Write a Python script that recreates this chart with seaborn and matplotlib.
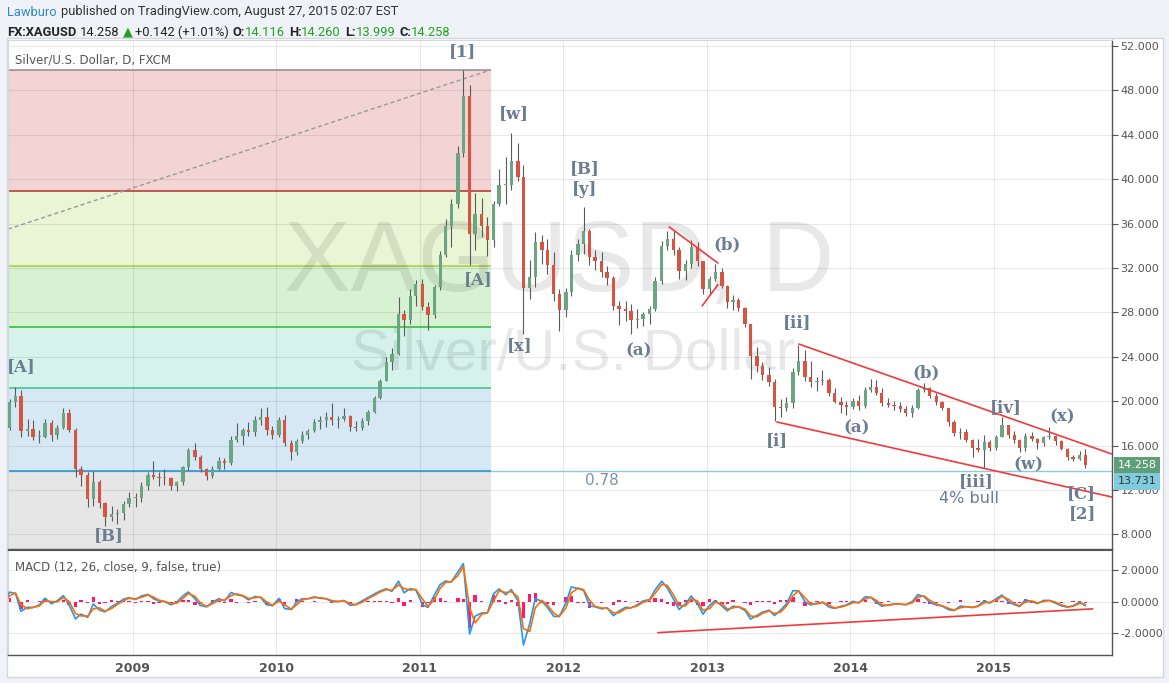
import numpy as np
import pandas as pd
import matplotlib
matplotlib.use("Agg")
import matplotlib.pyplot as plt
import matplotlib.dates as mdates
from matplotlib.patches import Rectangle
import seaborn as sns

W, H = 1169, 683

# ---------------- data (half-month candles) ----------------
period_start = pd.date_range("2008-02-01", "2015-08-15", freq="SMS")
first_open = 17.1

highs_2008 = [18.2, 20.2, 21.3, 21.0, 18.4, 18.3, 17.4, 18.4, 18.3, 17.9, 19.4, 19.3, 17.6, 14.2, 13.6, 13.7, 12.9, 10.9, 10.6, 10.3, 11.0, 11.8]
lows_2008 = [16.9, 17.4, 19.5, 16.8, 16.9, 16.5, 16.2, 16.7, 16.4, 16.6, 17.5, 17.2, 13.2, 12.4, 10.5, 10.6, 10.4, 8.8, 9.2, 8.9, 9.3, 10.5]
closes_2008 = [17.6, 19.9, 20.5, 17.3, 17.5, 16.8, 16.8, 18.0, 17.0, 17.6, 18.9, 17.4, 13.9, 13.4, 11.2, 12.7, 10.8, 9.6, 9.8, 9.9, 10.7, 11.3]

highs_2009 = [11.7, 12.7, 13.6, 14.6, 13.6, 13.9, 13.2, 12.8, 14.2, 15.8, 16.2, 15.2, 14.0, 14.2, 15.0, 14.9, 16.9, 18.0, 17.6, 18.1, 18.7, 19.4, 19.5, 17.8]
lows_2009 = [10.5, 10.9, 12.0, 13.0, 12.4, 12.5, 12.0, 11.9, 12.5, 13.8, 14.7, 13.6, 12.9, 13.1, 13.8, 13.9, 14.3, 16.3, 16.1, 16.9, 16.9, 17.9, 17.0, 16.6]
closes_2009 = [11.3, 12.4, 13.4, 13.2, 13.1, 13.1, 12.4, 12.7, 14.1, 15.6, 15.0, 13.9, 13.3, 13.9, 14.6, 14.4, 16.5, 16.9, 17.4, 17.2, 18.3, 18.6, 17.4, 17.0]

highs_2010 = [18.6, 18.8, 16.5, 16.6, 17.3, 17.5, 18.4, 18.7, 19.0, 19.8, 18.7, 19.4, 18.8, 18.2, 18.5, 19.2, 20.5, 22.0, 24.0, 24.8, 29.4, 28.2, 30.1, 30.9]
lows_2010 = [16.8, 16.0, 14.7, 15.2, 16.2, 16.6, 17.2, 17.5, 17.7, 17.9, 17.6, 18.2, 17.3, 17.3, 17.4, 17.9, 18.9, 20.2, 21.8, 22.8, 24.2, 25.9, 27.0, 28.6]
closes_2010 = [18.3, 16.2, 15.4, 16.4, 17.0, 17.3, 18.1, 18.3, 18.6, 18.3, 18.4, 18.7, 17.7, 17.6, 18.2, 19.0, 20.3, 21.8, 23.5, 24.3, 27.9, 27.3, 29.5, 30.6]

highs_2011 = [31.0, 28.9, 30.5, 33.5, 36.4, 38.2, 43.0, 49.8, 48.5, 38.8, 38.3, 36.6, 38.0, 40.9, 42.0, 44.2, 43.3, 41.3, 32.7, 35.2, 35.0, 34.6, 33.4, 30.1]
lows_2011 = [28.2, 26.4, 27.5, 30.0, 33.0, 33.9, 37.4, 42.0, 32.3, 33.6, 34.8, 33.1, 33.9, 37.6, 37.8, 39.0, 39.8, 26.1, 29.2, 30.3, 32.4, 31.5, 29.0, 26.3]
closes_2011 = [28.5, 27.8, 30.3, 33.2, 35.8, 37.8, 42.4, 47.5, 35.1, 36.9, 35.8, 34.5, 37.8, 39.5, 39.5, 41.6, 40.2, 30.2, 31.2, 34.3, 33.6, 32.3, 29.7, 28.2]

highs_2012 = [30.2, 33.6, 34.6, 37.5, 35.5, 33.6, 33.4, 32.2, 31.3, 29.0, 29.0, 28.8, 28.3, 28.0, 28.6, 31.2, 34.4, 35.3, 35.4, 33.9, 32.7, 34.5, 34.3, 32.6]
lows_2012 = [27.6, 29.5, 32.6, 33.3, 32.3, 31.8, 31.2, 30.5, 28.2, 26.9, 27.2, 26.1, 26.6, 26.8, 27.0, 28.1, 30.6, 33.6, 33.2, 31.0, 30.9, 32.0, 32.2, 29.7]
closes_2012 = [29.8, 33.2, 34.2, 35.3, 33.0, 32.6, 31.6, 31.1, 28.6, 28.3, 28.1, 27.3, 27.4, 27.9, 28.3, 30.8, 34.0, 34.6, 33.6, 31.7, 32.4, 33.9, 32.6, 30.1]

highs_2013 = [31.3, 32.4, 32.0, 30.5, 29.6, 29.3, 28.5, 27.0, 24.9, 23.5, 23.1, 22.0, 20.2, 20.4, 23.0, 25.1, 24.6, 23.6, 22.2, 22.8, 22.1, 21.2, 20.4, 20.0]
lows_2013 = [29.6, 30.8, 30.2, 28.4, 28.2, 28.1, 26.7, 22.0, 22.6, 21.9, 21.4, 18.2, 18.6, 19.1, 19.4, 22.4, 21.8, 21.3, 20.9, 21.5, 20.5, 19.8, 18.9, 18.8]
closes_2013 = [31.0, 31.6, 30.4, 28.9, 29.1, 28.4, 27.0, 24.1, 23.2, 22.4, 21.7, 19.5, 19.4, 19.8, 22.6, 23.6, 22.2, 21.7, 21.8, 21.9, 20.7, 19.9, 19.7, 19.5]

highs_2014 = [20.3, 20.6, 21.3, 22.0, 21.9, 21.2, 20.3, 20.0, 19.9, 19.6, 19.7, 21.2, 21.6, 21.3, 20.7, 20.0, 19.4, 18.3, 17.6, 17.5, 16.6, 16.6, 17.0, 16.5]
lows_2014 = [19.3, 19.2, 19.4, 20.8, 20.6, 19.6, 19.5, 19.2, 19.0, 18.7, 18.6, 19.3, 20.8, 20.3, 19.7, 19.2, 17.8, 16.9, 16.6, 16.3, 15.0, 15.4, 14.0, 15.5]
closes_2014 = [20.0, 19.6, 21.0, 21.3, 20.7, 19.8, 19.7, 19.6, 19.3, 18.9, 19.4, 21.0, 21.2, 20.5, 19.9, 19.4, 18.1, 17.1, 17.2, 16.5, 15.8, 15.6, 16.3, 15.8]

highs_2015 = [17.0, 18.6, 17.9, 17.3, 16.6, 17.1, 17.2, 16.7, 16.9, 17.7, 17.0, 16.5, 15.8, 15.2, 15.5, 15.7]
lows_2015 = [15.6, 16.8, 16.7, 16.2, 15.4, 15.5, 16.4, 15.7, 16.0, 16.6, 16.1, 15.6, 14.7, 14.6, 14.7, 14.0]
closes_2015 = [16.8, 17.9, 17.0, 16.5, 15.8, 16.9, 16.6, 16.2, 16.8, 16.9, 16.4, 15.7, 15.0, 14.8, 15.2, 14.258]

# Fibonacci retracement
fib_ratios = [0.0, 0.236, 0.382, 0.5, 0.618, 0.78, 1.0]
fib_high = 49.85
fib_low = 3.54
fib_start = "2008-02-01"
fib_end = "2011-07-01"
fib_line_colors = ["#8c8c8c", "#b3302c", "#a3cf3c", "#2fb82f", "#3dbf8d", "#2a8fd0"]
fib_fill_colors = ["#f3d4d4", "#eaf5d5", "#d7f1d3", "#d5f3ea", "#d5e8f4", "#e6e6e6"]
level_078_line = 13.731
fib_trend_dates = ["2008-02-18", "2011-07-01"]
fib_trend_prices = [35.5, 49.85]

# red trend lines (price panel)
trend_dates = [("2013-08-23", "2015-10-29"), ("2013-06-28", "2015-10-29"),
               ("2012-09-27", "2013-01-29"), ("2012-12-20", "2013-01-29")]
trend_prices = [(25.15, 15.24), (18.13, 11.37), (35.7, 32.45), (28.6, 30.5)]
macd_trend_dates = ["2012-08-29", "2015-09-10"]
macd_trend_values = [-1.95, -0.44]

# Elliott-wave labels
wave_labels = ["[1]", "[w]", "[B]", "[y]", "[A]", "[x]", "(a)", "(b)", "[ii]", "[i]", "(a)", "(b)",
               "[iv]", "(x)", "(w)", "[iii]", "[C]", "[2]", "[A]", "[B]"]
wave_dates = ["2011-04-21", "2011-08-29", "2012-02-25", "2012-02-25", "2011-05-29", "2011-09-13",
              "2012-07-12", "2013-02-21", "2013-08-18", "2013-06-28", "2014-01-18", "2014-07-13",
              "2015-02-01", "2015-06-24", "2015-03-29", "2014-11-17", "2015-08-11", "2015-08-16",
              "2008-03-22", "2008-11-01"]
wave_prices = [51.46, 45.96, 40.92, 39.03, 30.92, 25.06, 24.52, 34.07, 27.05, 16.5, 17.59, 22.54,
               19.39, 18.58, 14.25, 12.81, 11.73, 9.84, 23.17, 7.86]

price_ticks = [8, 12, 16, 20, 24, 28, 32, 36, 40, 44, 48, 52]
macd_ticks = [-2, 0, 2]
last_price = 14.258

# ---------------- assemble ----------------
highs = np.array(highs_2008 + highs_2009 + highs_2010 + highs_2011 + highs_2012 + highs_2013 + highs_2014 + highs_2015)
lows = np.array(lows_2008 + lows_2009 + lows_2010 + lows_2011 + lows_2012 + lows_2013 + lows_2014 + lows_2015)
closes = np.array(closes_2008 + closes_2009 + closes_2010 + closes_2011 + closes_2012 + closes_2013 + closes_2014 + closes_2015)
assert len(highs) == len(lows) == len(closes) == len(period_start)
opens = np.concatenate([[first_open], closes[:-1]])
highs = np.maximum(highs, np.maximum(opens, closes))
lows = np.minimum(lows, np.minimum(opens, closes))
centers = period_start + pd.Timedelta(days=7)
xc = mdates.date2num(centers)

# MACD(12, 26, 9) from the closes; each candle spans ~10.8 daily bars
bars_per_period = 10.8
def eff_alpha(n):
    return 1 - (1 - 2.0 / (n + 1)) ** bars_per_period
cs = pd.Series(closes)
macd = cs.ewm(alpha=eff_alpha(12), adjust=False).mean() - cs.ewm(alpha=eff_alpha(26), adjust=False).mean()
lag = 4.0 / bars_per_period  # SMA(9) lag in periods
signal = macd - lag * (macd - macd.shift(1).fillna(macd.iloc[0]))
hist = macd - signal

# ---------------- figure ----------------
sns.set_style("white")
plt.rcParams['font.family'] = ['DejaVu Sans']

fig = plt.figure(figsize=(W / 100, H / 100), dpi=100, facecolor="#eff2f6")
bg = Rectangle((7 / W, 1 - 677 / H), (1163 - 7) / W, (677 - 38) / H,
               transform=fig.transFigure, facecolor="white",
               edgecolor="#d3d8de", lw=1, zorder=-10)
fig.add_artist(bg)

ax = fig.add_axes([8 / W, 1 - 549 / H, 1104 / W, 509 / H])
ax2 = fig.add_axes([8 / W, 1 - 655 / H, 1104 / W, 105 / H], sharex=ax)
ax.set_zorder(1)
ax2.set_zorder(1)

xlim = (mdates.datestr2num("2008-02-18"), mdates.datestr2num("2015-10-29"))

for a in (ax, ax2):
    a.set_facecolor("white")
    a.set_axisbelow(True)
    a.grid(True, color="#000000", alpha=0.085, lw=0.8)
    a.xaxis.set_major_locator(mdates.YearLocator())
    a.xaxis.set_major_formatter(mdates.DateFormatter("%Y"))
    a.yaxis.tick_right()
    for s in ("top", "left"):
        a.spines[s].set_color("#d3d8de")
        a.spines[s].set_linewidth(0.8)
    for s in ("right", "bottom"):
        a.spines[s].set_color("#555555")
        a.spines[s].set_linewidth(1.0)
ax2.spines["top"].set_color("#555555")

# --- Fibonacci zones ---
fs, fe = mdates.datestr2num(fib_start), mdates.datestr2num(fib_end)
levels = [fib_high - r * (fib_high - fib_low) for r in fib_ratios]
ax.axhline(level_078_line, color="#8ccbdb", lw=1, zorder=0.6)
for i in range(len(levels) - 1):
    ax.fill_between([fs, fe], levels[i + 1], levels[i], color=fib_fill_colors[i], lw=0, zorder=0.2)
for i in range(len(levels) - 1):
    ax.hlines(levels[i], fs, fe, color=fib_line_colors[i], lw=1.1, zorder=0.7)
ax.plot(mdates.datestr2num(fib_trend_dates), fib_trend_prices, ls=(0, (3, 2)), color="#999999", lw=1, zorder=0.8)
ax.text(mdates.datestr2num("2012-04-09"), 12.9, "0.78", color="#8291a0", fontsize=11, ha="center", va="center", zorder=6)

# --- watermark ---
ax.text(mdates.datestr2num("2011-12-22"), 32.3, "XAGUSD, D", fontsize=72, family="Liberation Sans",
        color=(0, 0, 0, 0.09), ha="center", va="center", zorder=1)
ax.text(mdates.datestr2num("2012-01-26"), 24.2, "Silver/U.S. Dollar", fontsize=42, family="Liberation Sans",
        color=(0, 0, 0, 0.09), ha="center", va="center", zorder=1)

# --- candles ---
up = closes >= opens
body_col = np.where(up, "#6ba583", "#d75442")
ax.vlines(xc, lows, highs, color="#5b5b5b", lw=0.8, zorder=3)
body_h = np.maximum(np.abs(closes - opens), 0.08)
ax.bar(xc, body_h, bottom=np.minimum(opens, closes), width=8.5, color=body_col, lw=0, zorder=4)

# --- red trend lines ---
for d, p in zip(trend_dates, trend_prices):
    ax.plot(mdates.datestr2num(list(d)), list(p), color="#f23a3a", lw=1.2, zorder=5)

# --- wave labels ---
for lab, d, p in zip(wave_labels, wave_dates, wave_prices):
    ax.text(mdates.datestr2num(d), p, lab, fontsize=12, family="DejaVu Serif", fontweight="bold",
            color="#6b7d92", ha="center", va="center", zorder=6)
ax.text(mdates.datestr2num("2014-10-30"), 11.28, "4% bull", fontsize=11.5, color="#6b7d92",
        ha="center", va="center", zorder=6)

ax.text(7 / 1104, 1 - 20 / 509, "Silver/U.S. Dollar, D, FXCM", transform=ax.transAxes,
        fontsize=8.5, color="#555555", ha="left", va="center", zorder=7)

ax.set_xlim(*xlim)
ax.set_ylim(6.69, 52.54)
ax.set_yticks(price_ticks)
ax.set_yticklabels([f"{v:.3f}" for v in price_ticks])
ax.tick_params(axis="y", length=4, color="#555555", labelcolor="#555555", labelsize=8, pad=2)
ax.tick_params(axis="x", length=0, labelbottom=False)

# price labels on axis
ax.annotate(f"{last_price:.3f}", xy=(1.0, last_price), xycoords=("axes fraction", "data"),
            xytext=(4, 0), textcoords="offset points", ha="left", va="center", fontsize=8,
            color="white", annotation_clip=False, zorder=10,
            bbox=dict(boxstyle="square,pad=0.3", fc="#5f9e78", ec="none"))
ax.annotate(f"{level_078_line:.3f}", xy=(1.0, level_078_line), xycoords=("axes fraction", "data"),
            xytext=(4, -7.5), textcoords="offset points", ha="left", va="center", fontsize=8,
            color="#333333", annotation_clip=False, zorder=10,
            bbox=dict(boxstyle="square,pad=0.3", fc="#80cbdc", ec="none"))

# --- MACD panel ---
ax2.bar(xc, hist.values, width=8.5, color="#ff1a6e", lw=0, zorder=2)
sns.lineplot(x=centers, y=macd.values, ax=ax2, color="#2196f3", lw=1.2, zorder=3)
sns.lineplot(x=centers, y=signal.values, ax=ax2, color="#ff6d00", lw=1.2, zorder=4)
ax2.plot(mdates.datestr2num(macd_trend_dates), macd_trend_values, color="#f23a3a", lw=1.2, zorder=5)
ax2.set_xlabel("")
ax2.set_ylabel("")
ax2.set_ylim(-3.37, 3.3)
ax2.set_yticks(macd_ticks)
ax2.set_yticklabels([f"{v:.4f}" for v in macd_ticks])
ax2.tick_params(axis="y", length=4, color="#555555", labelcolor="#555555", labelsize=8, pad=2)
ax2.tick_params(axis="x", length=0, labelcolor="#555555", labelsize=9, pad=5)
for t in ax2.get_xticklabels():
    t.set_fontweight("bold")
ax2.text(7 / 1104, 1 - 17 / 105, "MACD (12, 26, close, 9, false, true)", transform=ax2.transAxes,
         fontsize=8.5, color="#555555", ha="left", va="center", zorder=7)
ax2.set_xlim(*xlim)

# --- header ---
renderer = fig.canvas.get_renderer()
def seq_text(x_px, y_px, parts, size):
    x = x_px
    for s, col, wt, gap in parts:
        t = fig.text(x / W, 1 - y_px / H, s, color=col, fontsize=size, fontweight=wt,
                     ha="left", va="center", family=["Roboto", "DejaVu Sans"])
        x += t.get_window_extent(renderer=renderer).width + gap

g = "#22a022"
seq_text(7, 12, [("Lawburo", "#2d89c8", "normal", 4),
                 ("published on TradingView.com, August 27, 2015 02:07 EST", "#333333", "normal", 0)], 9.3)
seq_text(7, 32, [("FX:XAGUSD", "#222222", "bold", 4), ("14.258", "#222222", "normal", 3),
                 ("▲", g, "normal", 2), ("+0.142 (+1.01%)", "#222222", "normal", 4),
                 ("O:", "#222222", "bold", 0), ("14.116", g, "normal", 4),
                 ("H:", "#222222", "bold", 0), ("14.260", g, "normal", 4),
                 ("L:", "#222222", "bold", 0), ("13.999", g, "normal", 4),
                 ("C:", "#222222", "bold", 0), ("14.258", g, "normal", 0)], 9.3)

fig.savefig("out.png", dpi=100, facecolor=fig.get_facecolor())
